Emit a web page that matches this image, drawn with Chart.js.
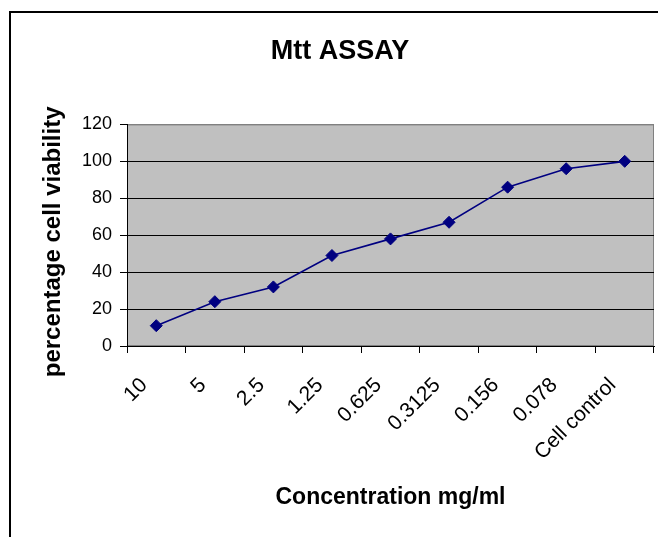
<!DOCTYPE html>
<html>
<head>
<meta charset="utf-8">
<script src="https://cdn.jsdelivr.net/npm/chart.js@4"></script>
<style>
  html, body { margin: 0; padding: 0; background: #fff; overflow: hidden; width: 658px; height: 537px; }
  #wrap { position: absolute; left: 0; top: 0; width: 708px; height: 537px; }
</style>
</head>
<body>
<div id="wrap"><canvas id="c" width="708" height="537"></canvas></div>
<script>
const categories = ['10', '5', '2.5', '1.25', '0.625', '0.3125', '0.156', '0.078', 'Cell control'];
const viability = [11, 24, 32, 49, 58, 67, 86, 96, 100];
const yTicks = [0, 20, 40, 60, 80, 100, 120];

const FONT = "'Liberation Sans', Arial, sans-serif";

const framePlugin = {
  id: 'frame',
  beforeDraw(chart) {
    const ctx = chart.ctx;
    ctx.save();
    ctx.fillStyle = '#ffffff';
    ctx.fillRect(0, 0, chart.width, chart.height);
    ctx.strokeStyle = '#000000';
    ctx.lineWidth = 2;
    ctx.strokeRect(10, 12, chart.width + 40, chart.height + 40);
    const a = chart.chartArea;
    ctx.fillStyle = '#c0c0c0';
    ctx.fillRect(a.left, a.top, a.right - a.left, a.bottom - a.top);
    ctx.strokeStyle = '#808080';
    ctx.lineWidth = 1;
    ctx.strokeRect(a.left + 0.5, a.top + 0.5, a.right - a.left - 1, a.bottom - a.top - 1);
    ctx.restore();
  }
};

new Chart(document.getElementById('c'), {
  type: 'line',
  data: {
    labels: categories,
    datasets: [{
      data: viability,
      borderColor: '#000080',
      backgroundColor: '#000080',
      borderWidth: 1.6,
      pointStyle: 'rectRot',
      pointRadius: 6,
      pointBorderWidth: 1,
      pointBackgroundColor: '#000080',
      pointBorderColor: '#000080',
      tension: 0,
      fill: false
    }]
  },
  options: {
    responsive: false,
    animation: false,
    devicePixelRatio: 1,
    layout: { padding: { left: 0, right: 28, top: 0, bottom: 0 } },
    plugins: {
      legend: { display: false },
      tooltip: { enabled: false },
      title: {
        display: true,
        text: 'Mtt ASSAY',
        color: '#000',
        font: { family: FONT, size: 27, weight: 'bold' },
        padding: { top: 35, bottom: 57 }
      }
    },
    scales: {
      x: {
        type: 'category',
        offset: true,
        afterFit(scale) { scale.height = 191; },
        grid: {
          display: true,
          drawOnChartArea: false,
          drawTicks: true,
          offset: true,
          tickLength: 7,
          tickColor: '#000',
          color: '#000'
        },
        border: { display: true, color: '#000', width: 1 },
        ticks: {
          autoSkip: false,
          minRotation: 45,
          maxRotation: 45,
          padding: 20,
          labelOffset: -12,
          color: '#000',
          font: { family: FONT, size: 21 }
        },
        title: {
          display: true,
          text: 'Concentration mg/ml',
          color: '#000',
          font: { family: FONT, size: 23, weight: 'bold' },
          padding: { top: 0, bottom: 26 }
        }
      },
      y: {
        min: 0,
        max: 120,
        afterFit(scale) { scale.width = 127; },
        afterBuildTicks(scale) { scale.ticks = yTicks.map(v => ({ value: v })); },
        grid: {
          color: ctx => (ctx.tick && ctx.tick.value === 120) ? '#808080' : '#000',
          drawTicks: true,
          tickLength: 7,
          tickColor: '#000',
          lineWidth: 1
        },
        border: { display: true, color: '#000', width: 1 },
        ticks: {
          padding: 8,
          color: '#000',
          font: { family: FONT, size: 18 }
        },
        title: {
          display: true,
          text: 'percentage cell viability  ',
          color: '#000',
          font: { family: FONT, size: 24, weight: 'bold' },
          padding: { top: 39, bottom: 0 }
        }
      },
      yRightSpacer: {
        position: 'right',
        display: true,
        min: 0,
        max: 120,
        afterFit(scale) { scale.width = 26; },
        grid: { display: false, drawTicks: false },
        border: { display: false },
        ticks: { display: false }
      }
    }
  },
  plugins: [framePlugin]
});
</script>
</body>
</html>
